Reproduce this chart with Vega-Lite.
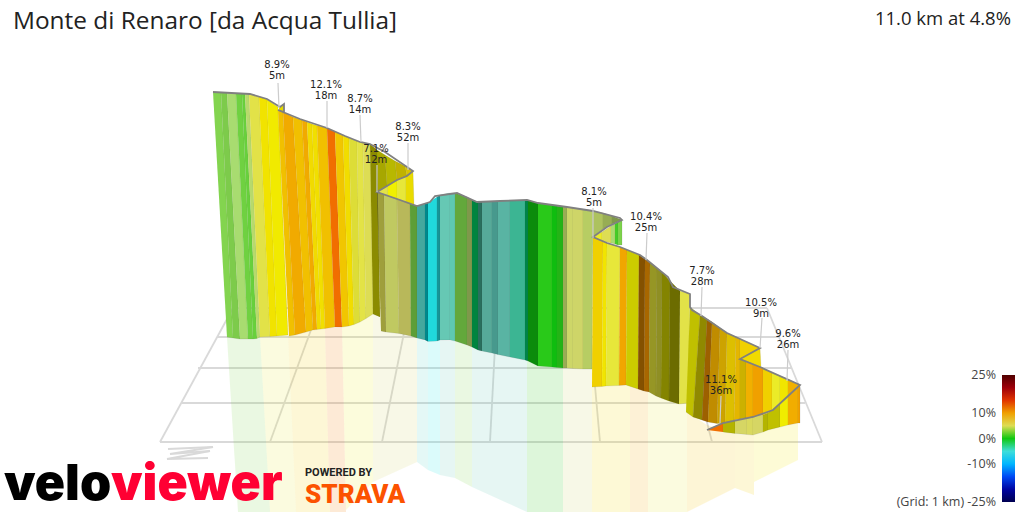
{"$schema":"https://vega.github.io/schema/vega-lite/v6.json","width":1024,"height":512,"padding":0,"autosize":{"type":"none"},"background":"white","view":{"stroke":null},
"config":{"view":{"stroke":null}},
"datasets":{
"grid":[
{"x":[160,822],"y":[442,442]},{"x":[182,805],"y":[403,403]},{"x":[198,791],"y":[368,368]},{"x":[217,778],"y":[337,337]},{"x":[233,767],"y":[308,308]},
{"x":[160,233],"y":[442,308]},{"x":[270,319],"y":[442,308]},{"x":[382,409],"y":[442,308]},{"x":[490,497],"y":[442,308]},{"x":[600,588],"y":[442,308]},{"x":[712,678],"y":[442,308]},{"x":[822,767],"y":[442,308]},
{"x":[168,213],"y":[449,447]},{"x":[213,170,210],"y":[447,454,451]},{"x":[210,167,208],"y":[451,459,458]}],
"reflect":[
{"g":1,"x":[227,260,270,238],"y":[337,337,512,512]},
{"g":6,"x":[260,288,296,270],"y":[337,335,512,512]},
{"g":8.5,"x":[288,325,330,296],"y":[335,328,512,512]},
{"g":11.5,"x":[325,342,346,330],"y":[328,327,512,512]},
{"g":6.5,"x":[342,373,373,346],"y":[327,314,482,510]},
{"g":4,"x":[373,417,417,373],"y":[314,338,462,482]},
{"g":-3.5,"x":[417,428,428,417],"y":[338,342,470,462]},
{"g":-6,"x":[428,440,440,428],"y":[342,340,475,470]},
{"g":-2,"x":[440,455,455,440],"y":[340,341,478,475]},
{"g":1,"x":[455,472,472,455],"y":[341,347,487,478]},
{"g":-2,"x":[472,527,527,472],"y":[347,360,512,487]},
{"g":0.1,"x":[527,563,563,527],"y":[360,368,512,512]},
{"g":3.6,"x":[563,592,592,563],"y":[368,369,512,512]},
{"g":8,"x":[592,630,630,592],"y":[387,385,512,512]},
{"g":9.8,"x":[630,648,648,630],"y":[385,392,512,512]},
{"g":6,"x":[648,687,687,648],"y":[392,403,512,512]},
{"g":9,"x":[687,707,735,735,687],"y":[412,425,434,488,512]},
{"g":8.5,"x":[735,754,754,735],"y":[434,435,495,488]},
{"g":7.5,"x":[754,767,798,798,754],"y":[435,430,423,460,482]}],
"panels":[
{"g":1.1,"x":[213,221,233,227],"y":[92,92.5,338,337]},
{"g":1.1,"s":0.04,"x":[221,227,240,233],"y":[92.5,93,339,338]},
{"g":1.8,"x":[227,236,248,240],"y":[93,93.5,339,339]},
{"g":0.8,"x":[236,242,253,248],"y":[93.5,94,339,339]},
{"g":0.7,"x":[242,245,257,253],"y":[94,94,338.5,339]},
{"g":2.5,"x":[245,249,260,257],"y":[94,94,337,338.5]},
{"g":5.5,"x":[249,259,270,260],"y":[94,96.5,336.5,337]},
{"g":7.6,"x":[259,267,277,270],"y":[96.5,99.5,336,336.5]},
{"g":7.3,"x":[267,278,288,277],"y":[99.5,107,335,336]},
{"g":7.5,"s":0.05,"x":[279,284,284,279],"y":[107,104,112,110]},
{"g":9,"x":[278,283,295,289],"y":[110,112,335,336]},
{"g":9.7,"x":[283,293,306,295],"y":[112,117,332,335]},
{"g":9,"x":[293,302,313,306],"y":[117,120,330,332]},
{"g":9.7,"x":[302,307,317,313],"y":[120,122,329.5,330]},
{"g":8,"x":[307,312,321,317],"y":[122,124,329,329.5]},
{"g":7.8,"x":[312,317,325,321],"y":[124,125.5,328.5,329]},
{"g":9,"x":[317,327,335,325],"y":[125.5,128,327,328.5]},
{"g":12,"x":[327,335,342,335],"y":[128,131.5,327,327]},
{"g":8.8,"x":[335,343,349,342],"y":[131.5,135,326,327]},
{"g":7.9,"x":[343,349,354,349],"y":[135,138,324.5,326]},
{"g":6,"s":0.04,"x":[349,357,360,354],"y":[138,141,322,324.5]},
{"g":5.6,"x":[357,363,366,360],"y":[141,142.5,318.5,322]},
{"g":5,"x":[363,370,373,366],"y":[142.5,144,314,318.5]},
{"g":7,"s":0.42,"x":[370,377,380,373],"y":[144,150,317,314]},
{"g":7,"s":0.3,"x":[377,385,387,377],"y":[150,155,186,192]},
{"g":7,"s":0.23,"x":[385,395,397,387],"y":[155,161,180,186]},
{"g":7.8,"s":0.2,"x":[395,405,407,397],"y":[161,166,176,180]},
{"g":8,"s":0.1,"x":[405,413,413,407],"y":[166,171,171,176]},
{"g":5.5,"x":[377,388,388],"y":[192,185,196]},
{"g":7,"x":[388,397,397,388],"y":[185,180,199,196]},
{"g":6,"x":[397,406,406,397],"y":[180,176,203,199]},
{"g":7.6,"s":0.03,"x":[406,413,414,406],"y":[176,171,206,203]},
{"g":5,"s":0.28,"x":[377,384,386,381],"y":[192,194.5,332,331]},
{"g":3.6,"s":0.06,"x":[384,397,399,386],"y":[194.5,199,333.5,332]},
{"g":4,"s":0.13,"x":[397,410,411,399],"y":[199,204,336,333.5]},
{"g":1,"s":0.25,"x":[410,417,417,411],"y":[204,206,338,336]},
{"g":-3.5,"s":0.2,"x":[417,425,425,417],"y":[206,204,340,338]},
{"g":-6.5,"s":0.42,"x":[425,428,428,425],"y":[204,203,341.5,340]},
{"g":-6,"s":0.05,"x":[428,437,437,428],"y":[203,197,341,341.5]},
{"g":-6,"s":0.35,"x":[437,440,440,437],"y":[197,195,340,341]},
{"g":-2,"x":[440,450,450,440],"y":[195,193,340,340]},
{"g":-1.9,"x":[450,455,455,450],"y":[193,193,341,340]},
{"g":1,"s":0.2,"x":[455,467,467,455],"y":[193,197,345,341]},
{"g":2.5,"s":0.3,"x":[467,472,472,467],"y":[197,200,347,345]},
{"g":-0.6,"s":0.35,"x":[472,478,478,472],"y":[200,202,350,347]},
{"g":-1.7,"s":0.45,"x":[478,482,482,478],"y":[202,202,351,350]},
{"g":-2,"s":0.15,"x":[482,492,492,482],"y":[202,201.5,353,351]},
{"g":-2.7,"s":0.25,"x":[492,498,498,492],"y":[201.5,201,354.5,353]},
{"g":-2.2,"s":0.1,"x":[498,510,510,498],"y":[201,201,357,354.5]},
{"g":-1.6,"s":0.1,"x":[510,525,525,510],"y":[201,200,360,357]},
{"g":-0.8,"s":0.35,"x":[525,528,528,525],"y":[200,200,361,360]},
{"g":0,"s":0.3,"x":[528,538,538,528],"y":[200,203,366,361]},
{"g":0.1,"x":[538,552,552,538],"y":[203,205,367,366]},
{"g":0,"s":0.05,"x":[552,557,557,552],"y":[205,206,367.5,367]},
{"g":0.1,"s":0.1,"x":[557,563,563,557],"y":[206,207,368,367.5]},
{"g":3,"s":0.2,"x":[563,567,567,563],"y":[207,207,368,368]},
{"g":3.6,"x":[567,573,573,567],"y":[207,208,368.5,368]},
{"g":3.7,"x":[573,583,583,573],"y":[208,209.5,369,368.5]},
{"g":3,"s":0.05,"x":[583,593,592,583],"y":[209.5,211,369,369]},
{"g":3,"s":0.1,"x":[593,603,603,593],"y":[211,213,229,237]},
{"g":2.8,"s":0.2,"x":[603,612,612,603],"y":[213,216,224,229]},
{"g":2.5,"s":0.3,"x":[612,622,622,612],"y":[216,220,220,224]},
{"g":6.5,"x":[593,602,602],"y":[237,232,241]},
{"g":5,"x":[602,611,611,602],"y":[232,226,243,241]},
{"g":2,"x":[611,615,615,611],"y":[226,224,244,243]},
{"g":0.3,"x":[615,618,618,615],"y":[224,222,245,244]},
{"g":1,"x":[618,622,622,618],"y":[222,220,245,245]},
{"g":8.5,"x":[593,603,602,592],"y":[237,241,386.5,387]},
{"g":7.5,"x":[603,607,606,602],"y":[241,243,386,386.5]},
{"g":6,"x":[607,620,619,606],"y":[243,247,385.5,386]},
{"g":9.8,"x":[620,627,626,619],"y":[247,250,385,385.5]},
{"g":7,"s":0.15,"x":[627,639,638,626],"y":[250,255,389,385]},
{"g":10.5,"s":0.45,"x":[639,645,644,638],"y":[255,259,391,389]},
{"g":10.5,"s":0.3,"x":[645,650,649,644],"y":[259,262,392,391]},
{"g":6,"s":0.35,"x":[650,657,656,649],"y":[262,268,396,392]},
{"g":6,"s":0.38,"x":[657,662,661,656],"y":[268,272,398,396]},
{"g":7,"s":0.45,"x":[662,670,669,661],"y":[272,281,401,398]},
{"g":7,"s":0.55,"x":[670,680,679,669],"y":[281,291,404,401]},
{"g":5.5,"x":[680,690,688,679],"y":[291,294,403,404]},
{"g":7,"s":0.2,"x":[690,700,693,686],"y":[307,315,417,412]},
{"g":7.5,"s":0.4,"x":[700,707,702,693],"y":[315,319,420,417]},
{"g":10.5,"s":0.35,"x":[707,712,708,702],"y":[319,322,422,420]},
{"g":9.5,"s":0.2,"x":[712,720,717,708],"y":[322,328,423.5,422]},
{"g":9,"s":0.15,"x":[720,727,725,717],"y":[328,333,423,423.5]},
{"g":8.5,"s":0.08,"x":[727,736,734,725],"y":[333,337,420,423]},
{"g":9,"s":0.05,"x":[736,740,740,734],"y":[337,339,419,420]},
{"g":8.5,"x":[740,760,740],"y":[339,348,359]},
{"g":8,"x":[740,760,761],"y":[359,348,367]},
{"g":8.5,"s":0.15,"x":[740,746,746,740],"y":[359,361,418,419]},
{"g":9.5,"x":[746,753,753,746],"y":[361,364,417,418]},
{"g":10,"x":[753,763,763,753],"y":[364,368,415,417]},
{"g":8.5,"x":[763,772,772,763],"y":[368,373,411,415]},
{"g":6.5,"x":[772,780,780,772],"y":[373,376,404,411]},
{"g":7.5,"x":[780,788,788,780],"y":[376,379,396,404]},
{"g":9.5,"x":[788,800,800,788],"y":[379,385,385,396]},
{"g":12,"x":[707,723,723],"y":[430,423,432]},
{"g":7,"s":0.25,"x":[723,735,735,723],"y":[423,420,433.5,432]},
{"g":4.2,"x":[735,747,747,735],"y":[420,418,434.5,433.5]},
{"g":4.5,"x":[747,753,753,747],"y":[418,417,435,434.5]},
{"g":4.2,"x":[753,763,763,753],"y":[417,415,432,435]},
{"g":7,"s":0.25,"x":[763,768,768,763],"y":[415,413,430,432]},
{"g":7,"s":0.2,"x":[768,780,780,768],"y":[413,404,427,430]},
{"g":7.2,"x":[780,788,788,780],"y":[404,396,425,427]},
{"g":9.6,"x":[788,798,798,788],"y":[396,386,423,425]},
{"g":10,"x":[798,800,800,798],"y":[386,385,423,423]}],
"edge":[{"x":[213,250,267,280,284,284,278,300,327,345,360,370,385,413,407,397,377,400,417,430,435,457,477,500,527,538,567,593,620,622,607,593,607,620,640,647,668,673,690,690,692,702,727,760,740,760,800,787,773,753,723,707],
"y":[92,94,99,107,104,112,110,119,128,136,142,144,152,171,176,180,192,200,206,202,196,193,202,201,200,203,207,211,218,220,227,237,243,247,255,260,277,287,294,307,310,316,333,348,359,367,385,397,410,417,423,430]}],
"leaders":[
{"x":[278,279],"y":[83,108]},{"x":[327,327],"y":[101,128]},{"x":[360,361],"y":[115,142]},{"x":[377,377],"y":[165,192]},{"x":[408,408],"y":[143,170]},{"x":[593,593],"y":[208,238]},{"x":[647,646],"y":[233,260]},{"x":[702,701],"y":[287,316]},{"x":[762,760],"y":[318,348]},{"x":[788,787],"y":[350,381]},{"x":[721,720],"y":[396,423]}],
"notes":[
{"x":277,"y":60,"t":"8.9%\n5m"},{"x":326,"y":80,"t":"12.1%\n18m"},{"x":360,"y":94,"t":"8.7%\n14m"},{"x":376,"y":144,"t":"7.1%\n12m"},{"x":408,"y":122,"t":"8.3%\n52m"},{"x":594,"y":187,"t":"8.1%\n5m"},{"x":646,"y":212,"t":"10.4%\n25m"},{"x":702,"y":266,"t":"7.7%\n28m"},{"x":761,"y":298,"t":"10.5%\n9m"},{"x":788,"y":329,"t":"9.6%\n26m"},{"x":721,"y":375,"t":"11.1%\n36m"}]
},
"encoding":{"x":{"field":"x","type":"quantitative","scale":{"domain":[0,1024],"range":[0,1024]},"axis":null},"y":{"field":"y","type":"quantitative","scale":{"domain":[0,512],"range":[0,512]},"axis":null}},
"layer":[
{"data":{"name":"grid"},"transform":[{"window":[{"op":"row_number","as":"p"}]},{"flatten":["x","y"]},{"window":[{"op":"row_number","as":"i"}],"groupby":["p"]}],
 "mark":{"type":"line","color":"#d9d9d9","strokeWidth":1.8},"encoding":{"detail":{"field":"p"},"order":{"field":"i"}}},
{"data":{"name":"reflect"},"transform":[{"window":[{"op":"row_number","as":"p"}]},{"flatten":["x","y"]},{"window":[{"op":"row_number","as":"i"}],"groupby":["p"]}],
 "mark":{"type":"line","filled":true,"opacity":0.16,"clip":true},"encoding":{"detail":{"field":"p"},"order":{"field":"i"},"color":{"field":"g","type":"quantitative"}}},
{"data":{"name":"panels"},"transform":[{"window":[{"op":"row_number","as":"p"}]},{"flatten":["x","y"]},{"window":[{"op":"row_number","as":"i"}],"groupby":["p"]}],
 "layer":[
 {"mark":{"type":"line","filled":true,"stroke":"#555555","strokeWidth":0.5,"strokeOpacity":0.25},"encoding":{"detail":{"field":"p"},"order":{"field":"i"},
  "color":{"field":"g","type":"quantitative","scale":{"domain":[-25,-16.5,-13,-6.5,-2,0,1.8,4,7,8.5,10,12.5,16.5,25],"range":["#000050","#0000e0","#0080ff","#00e8f0","#66c8b4","#10c810","#a8dc70","#d4d468","#f0f000","#f0d000","#f0a000","#f06000","#d80000","#500000"]},
  "legend":{"type":"gradient","orient":"none","legendX":1002,"legendY":375,"gradientLength":127,"gradientThickness":13,"title":null,"values":[25,10,0,-10,-25],"labelFontSize":12.5,"labelFont":"Open Sans","labelColor":"#444444","labelOverlap":false,"labelExpr":"datum.value==-25?'(Grid: 1 km) -25%':datum.value+'%'","gradientStrokeWidth":0,"encode":{"labels":{"update":{"x":{"value":-6},"align":{"value":"right"},"baseline":{"value":"middle"}}}}}}}},
 {"transform":[{"filter":"datum.s>0"}],"mark":{"type":"line","filled":true,"fill":"#000000"},"encoding":{"detail":{"field":"p"},"order":{"field":"i"},"opacity":{"field":"s","type":"quantitative","scale":null,"legend":null}}}
 ]},
{"data":{"name":"edge"},"transform":[{"flatten":["x","y"]},{"window":[{"op":"row_number","as":"i"}]}],"mark":{"type":"line","color":"#808080","strokeWidth":1.8},"encoding":{"order":{"field":"i"}}},
{"data":{"name":"leaders"},"transform":[{"window":[{"op":"row_number","as":"p"}]},{"flatten":["x","y"]},{"window":[{"op":"row_number","as":"i"}],"groupby":["p"]}],"mark":{"type":"line","color":"#cccccc","strokeWidth":1.2},"encoding":{"detail":{"field":"p"},"order":{"field":"i"}}},
{"data":{"name":"notes"},"mark":{"type":"text","font":"DejaVu Sans","fontSize":10,"color":"#222222","lineBreak":"\n","lineHeight":11,"baseline":"top","align":"center"},"encoding":{"text":{"field":"t"}}},
{"data":{"values":[{"x":13,"y":29,"t":"Monte di Renaro [da Acqua Tullia]"}]},"mark":{"type":"text","font":"Open Sans","fontSize":24.4,"color":"#222222","align":"left","baseline":"alphabetic"},"encoding":{"text":{"field":"t"}}},
{"data":{"values":[{"x":1011,"y":25,"t":"11.0 km at 4.8%"}]},"mark":{"type":"text","font":"Open Sans","fontSize":18.5,"color":"#222222","align":"right","baseline":"alphabetic"},"encoding":{"text":{"field":"t"}}},
{"data":{"values":[{"x":4,"y":500,"t":"velo"}]},"mark":{"type":"text","font":"Inter","fontWeight":900,"fontSize":50,"color":"#000000","align":"left","baseline":"alphabetic"},"encoding":{"text":{"field":"t"}}},
{"data":{"values":[{"x":111,"y":500,"t":"viewer"}]},"mark":{"type":"text","font":"Inter","fontWeight":900,"fontSize":50,"color":"#ff0033","align":"left","baseline":"alphabetic"},"encoding":{"text":{"field":"t"}}},
{"data":{"values":[{"x":305,"y":476,"t":"POWERED BY"}]},"mark":{"type":"text","font":"Roboto","fontWeight":700,"fontSize":11,"color":"#222222","align":"left","baseline":"alphabetic"},"encoding":{"text":{"field":"t"}}},
{"data":{"values":[{"x":305,"y":503,"t":"STRAVA"}]},"mark":{"type":"text","font":"Roboto","fontWeight":900,"fontSize":26,"color":"#fc5200","align":"left","baseline":"alphabetic"},"encoding":{"text":{"field":"t"}}}
]}
